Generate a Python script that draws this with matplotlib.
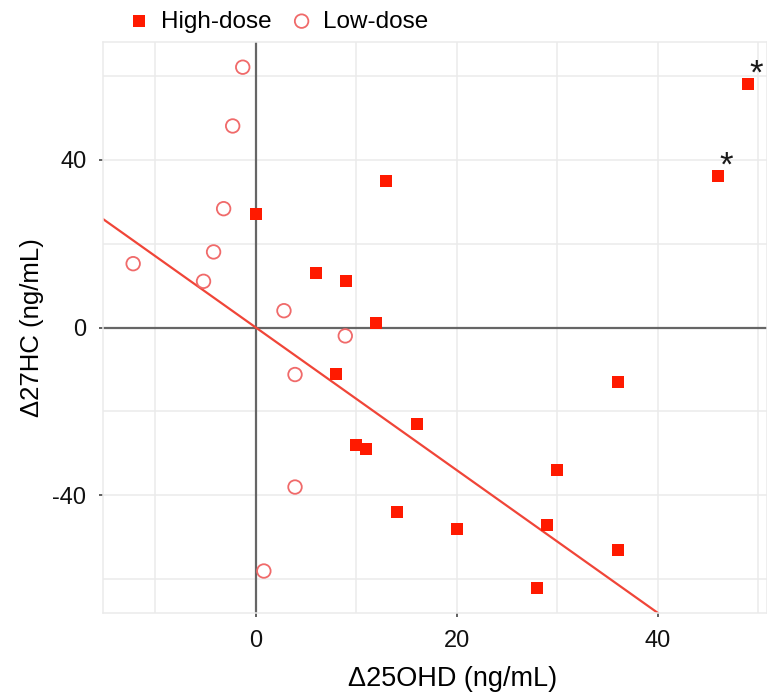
import matplotlib.pyplot as plt

plt.rcParams['font.family'] = ['Liberation Sans', 'DejaVu Sans']
plt.rcParams['axes.unicode_minus'] = False

# high-dose group
high_x = [0, 13, 6, 9, 12, 8, 16, 10, 11, 30, 36, 14, 20, 29, 36, 28, 49, 46]
high_y = [27, 35, 13, 11, 1, -11, -23, -28, -29, -34, -13, -44, -48, -47, -53, -62, 58, 36]
# low-dose group
low_x = [-1.3, -2.3, -3.2, -4.2, -12.2, -5.2, 2.8, 8.9, 3.9, 3.9, 0.8]
low_y = [62, 48, 28.3, 18, 15.2, 11, 4, -2, -11.2, -38, -58]
# flagged points
star_x = [49, 46]
star_y = [58, 36]
# fitted line
fit_intercept = 0.0
fit_slope = -1.7

fig = plt.figure(figsize=(7.67, 6.94), dpi=100)
ax = fig.add_axes([103/767, 1-613/694, 1-103/767, (613-42)/694])

ax.set_xlim(-15.2, 50.85)
ax.set_ylim(-68, 68)

# grid
for gx in [-10, 0, 10, 20, 30, 40, 50]:
	ax.axvline(gx, color='#ebebeb', lw=1.1, zorder=0)
for gy in [-60, -40, -20, 0, 20, 40, 60]:
	ax.axhline(gy, color='#ebebeb', lw=1.1, zorder=0)
ax.axvline(0, color='#666666', lw=1.6, zorder=1)
ax.axhline(0, color='#666666', lw=1.6, zorder=1)

for s in ax.spines.values():
	s.set_color('#ebebeb')
	s.set_linewidth(1.1)

ax.axline((0, fit_intercept), slope=fit_slope, color='#f04538', lw=1.6, zorder=2)

ax.scatter(high_x, high_y, marker='s', s=80, color='#ff1a00', linewidths=0, zorder=3, label='High-dose')
ax.scatter(low_x, low_y, marker='o', s=95, facecolors='none', edgecolors='#f06a6a', linewidths=1.3, zorder=3, label='Low-dose')

for sx, sy in zip(star_x, star_y):
	ax.text(sx + 0.8, sy + 2.4, '*', fontsize=25, color='#1a1a1a', ha='center', va='center', zorder=4)

ax.set_xticks([0, 20, 40])
ax.set_yticks([-40, 0, 40])
ax.tick_params(length=3, width=1.2, color='#444444', labelsize=17, labelcolor='#111111', pad=9)

ax.set_xlabel('\u039425OHD (ng/mL)', fontsize=19.5)
ax.xaxis.set_label_coords(0.526, -0.092)
ax.set_ylabel('\u039427HC (ng/mL)', fontsize=18.5, labelpad=6)

fig.legend(loc='center', bbox_to_anchor=(0.362, 0.969), ncol=2, frameon=False,
	fontsize=17.5, handlelength=1.0, handletextpad=0.4, columnspacing=0.75, markerscale=1.0)

fig.savefig('out.png', dpi=100)
